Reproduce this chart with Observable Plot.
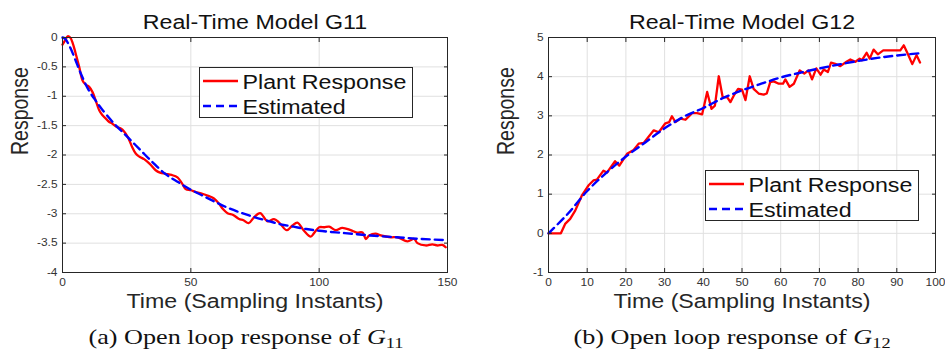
<!DOCTYPE html>
<html>
<head>
<meta charset="utf-8">
<script src="https://cdn.jsdelivr.net/npm/d3@7"></script>
<script src="https://cdn.jsdelivr.net/npm/@observablehq/plot@0.6"></script>
<style>
  html, body { margin: 0; padding: 0; background: #fff; }
  #wrap { position: relative; width: 945px; height: 353px; overflow: hidden; }
  .panel { position: absolute; top: 0; }
  .cap { position: absolute; top: 326px; font-family: "Liberation Serif", "DejaVu Serif", serif; font-size: 22px; line-height: 1; color: #111; white-space: nowrap; transform: translateX(-50%) scaleX(1.19); }
  .cap sub { font-size: 0.7em; vertical-align: -0.25em; }
  .legend { position: absolute; }
</style>
</head>
<body>
<div id="wrap">
  <div id="left" class="panel" style="left:0px"></div>
  <div id="right" class="panel" style="left:472px"></div>
  <svg id="legL" class="legend" style="left:199px;top:67px" width="215" height="52"></svg>
  <svg id="legR" class="legend" style="left:705px;top:170px" width="215" height="52"></svg>
  <div class="cap" style="left:246px">(a) Open loop response of <i>G</i><sub>11</sub></div>
  <div class="cap" style="left:732px">(b) Open loop response of <i>G</i><sub>12</sub></div>
</div>
<script>
// ---------- Data: G11 ----------
const g11Title = "Real-Time Model G11";
const g11XTicks = [0, 50, 100, 150];
const g11YTicks = [-4, -3.5, -3, -2.5, -2, -1.5, -1, -0.5, 0];
const g11PlantT = [0,1,2,3,4,5,6.5,7.8,9,10.4,11.7,13,14.3,15.5,16.9,18,19.5,21,22.7,24,25.5,27,28.6,30,31.8,34,36.3,38,40.2,42.5,44.8,46.5,48,50,51.9,54.5,57.1,59,61,62.5,64.3,66.5,68.8,70.5,72.5,74.6,77,79.9,82.4,84.4,87.4,89.6,91.5,94.1,96.7,98,100,102,103.9,106.5,109,112.3,114.7,116.9,118.2,119.5,122,124,127.9,130.5,134.4,137,138.3,141.5,144.1,146,148,149.3];
const g11PlantV = [-0.12,-0.05,0.02,0.0,-0.1,-0.25,-0.5,-0.73,-0.8,-0.84,-0.93,-1.08,-1.24,-1.32,-1.38,-1.43,-1.47,-1.52,-1.55,-1.6,-1.7,-1.85,-1.98,-2.03,-2.07,-2.15,-2.26,-2.3,-2.32,-2.34,-2.38,-2.48,-2.58,-2.6,-2.63,-2.66,-2.70,-2.74,-2.83,-2.92,-2.99,-3.02,-3.09,-3.11,-3.16,-3.06,-2.99,-3.13,-3.09,-3.15,-3.28,-3.2,-3.15,-3.29,-3.39,-3.33,-3.23,-3.23,-3.22,-3.28,-3.24,-3.28,-3.32,-3.32,-3.43,-3.37,-3.34,-3.37,-3.40,-3.40,-3.47,-3.43,-3.50,-3.54,-3.52,-3.54,-3.53,-3.57];
const g11EstT = [0,1,3,5,7,10,13,15,20,25,30,35,40,45,50,55,60,65,70,75,80,85,90,95,100,110,120,130,140,150];
const g11EstV = [0,-0.02,-0.17,-0.38,-0.6,-0.88,-1.08,-1.2,-1.46,-1.68,-1.9,-2.12,-2.32,-2.46,-2.59,-2.70,-2.81,-2.91,-2.99,-3.06,-3.12,-3.18,-3.22,-3.26,-3.29,-3.33,-3.37,-3.40,-3.43,-3.45];

// ---------- Data: G12 ----------
const g12Title = "Real-Time Model G12";
const g12XTicks = [0,10,20,30,40,50,60,70,80,90,100];
const g12YTicks = [-1,0,1,2,3,4,5];
const g12PlantT = [0,1,2,3.2,4.3,5.6,6.9,8.6,10.3,11.6,12.5,14.2,15.1,17.2,18.3,20.3,22,23.3,24.6,27.2,28.5,30.2,31.2,31.9,32.8,34.1,35.4,37.1,38.4,39.7,41,42.1,43,44,45,46.2,47,47.9,49,50,50.9,52,53,54.3,55.6,56.4,57.3,58.2,59.5,60.6,61.2,62.3,63.4,64.9,66.1,67.2,68.1,69.2,70.3,71.1,72.2,73,74.1,75.4,77,78,79.3,80.4,81,82.2,83,84,85.1,86.5,90.9,91.8,92.8,94,95.1,96];
const g12PlantV = [0,0,0,0,0.24,0.37,0.58,0.96,1.22,1.35,1.37,1.60,1.55,1.84,1.73,2.03,2.13,2.29,2.31,2.63,2.58,2.81,2.84,2.99,2.84,2.93,2.90,3.07,3.07,3.04,3.61,3.18,3.26,4.01,3.48,3.47,3.35,3.52,3.69,3.67,3.40,4.01,3.69,3.57,3.54,3.57,3.86,3.88,3.82,3.82,3.93,3.74,3.82,4.16,4.08,4.16,3.93,4.21,4.05,4.18,4.12,4.36,4.33,4.27,4.38,4.44,4.38,4.46,4.42,4.61,4.46,4.69,4.57,4.67,4.67,4.80,4.59,4.32,4.55,4.36];
const g12EstT = [0,5,10,15,20,25,30,35,40,45,50,55,60,65,70,75,80,85,90,96];
const g12EstV = [0,0.5,1.08,1.55,1.96,2.32,2.68,2.98,3.20,3.45,3.65,3.82,3.98,4.10,4.21,4.31,4.40,4.48,4.54,4.60];

const legendLabels = ["Plant Response", "Estimated"];
const xLabel = "Time (Sampling Instants)";
const yLabel = "Response";

const STRETCH = 1.19;
const FONT = "'Liberation Sans', Arial, sans-serif";
const INK = "#262626";

function zip(T, V) { return T.map((t, i) => ({t, v: V[i]})); }

function panel({title, xTicks, yTicks, plantT, plantV, estT, estV, width, ml, mr, plantCurve}) {
  const xd = [xTicks[0], xTicks[xTicks.length - 1]];
  const yd = [yTicks[0], yTicks[yTicks.length - 1]];
  const fmt = d => String(d);
  return Plot.plot({
    width, height: 353,
    marginLeft: ml, marginRight: mr, marginTop: 37, marginBottom: 81,
    style: {fontFamily: FONT, fontSize: "10px", color: "#333", background: "transparent", overflow: "visible"},
    x: {domain: xd},
    y: {domain: yd},
    marks: [
      Plot.gridX(xTicks, {stroke: "#e0e0e0", strokeOpacity: 1, strokeWidth: 1}),
      Plot.gridY(yTicks, {stroke: "#e0e0e0", strokeOpacity: 1, strokeWidth: 1}),
      Plot.line(zip(plantT, plantV), {x: "t", y: "v", stroke: "#ff0000", strokeWidth: 2.3, curve: plantCurve}),
      Plot.line(zip(estT, estV), {x: "t", y: "v", stroke: "#0000ff", strokeWidth: 2.4, strokeDasharray: "8,5", curve: "catmull-rom"}),
      Plot.frame({stroke: INK, strokeWidth: 1}),
      Plot.axisX(xTicks, {anchor: "bottom", tickSize: -4, tickPadding: 10, tickFormat: fmt, label: null, stroke: INK}),
      Plot.axisX(xTicks, {anchor: "top", tickSize: -4, tickFormat: () => "", label: null, stroke: INK}),
      Plot.axisY(yTicks, {anchor: "left", tickSize: -4, tickPadding: 9, tickFormat: fmt, label: null, stroke: INK}),
      Plot.axisY(yTicks, {anchor: "right", tickSize: -4, tickFormat: () => "", label: null, stroke: INK}),
      Plot.text([title], {frameAnchor: "top", lineAnchor: "bottom", dy: -9, fontSize: 19.5, fill: "#111"}),
      Plot.text([xLabel], {frameAnchor: "bottom", lineAnchor: "bottom", dy: 35, fontSize: 19.5, fill: INK}),
      Plot.text([yLabel], {frameAnchor: "left", lineAnchor: "bottom", rotate: -90, dx: -35, fontSize: 19.5, fill: INK})
    ]
  });
}

function stretchTexts(root, k) {
  root.querySelectorAll("text").forEach(t => {
    const tr = t.getAttribute("transform") || "";
    if (tr.includes("rotate")) {
      // rotated label: widen glyph height (screen-horizontal direction)
      t.setAttribute("transform", tr + ` scale(1,${k})`);
      return;
    }
    if (!t.textContent) return;
    const len = t.getComputedTextLength();
    if (len > 0) {
      t.setAttribute("textLength", (len * k).toFixed(2));
      t.setAttribute("lengthAdjust", "spacingAndGlyphs");
    }
  });
}

function legend(sel) {
  const svg = d3.select(sel);
  svg.append("rect").attr("x", 0.5).attr("y", 0.5).attr("width", 213).attr("height", 50)
    .attr("fill", "#fff").attr("stroke", INK).attr("stroke-width", 1);
  svg.append("line").attr("x1", 4).attr("x2", 39).attr("y1", 14).attr("y2", 14)
    .attr("stroke", "#ff0000").attr("stroke-width", 2.3);
  svg.append("line").attr("x1", 4).attr("x2", 39).attr("y1", 39).attr("y2", 39)
    .attr("stroke", "#0000ff").attr("stroke-width", 2.4).attr("stroke-dasharray", "8,5");
  svg.append("text").attr("x", 43.5).attr("y", 22).text(legendLabels[0])
    .attr("font-family", FONT).attr("font-size", 19.5).attr("fill", "#111");
  svg.append("text").attr("x", 43.5).attr("y", 46.5).text(legendLabels[1])
    .attr("font-family", FONT).attr("font-size", 19.5).attr("fill", "#111");
  stretchTexts(svg.node(), STRETCH);
}

const left = panel({title: g11Title, xTicks: g11XTicks, yTicks: g11YTicks,
  plantT: g11PlantT, plantV: g11PlantV, estT: g11EstT, estV: g11EstV,
  width: 472, ml: 62, mr: 25, plantCurve: "catmull-rom"});
const right = panel({title: g12Title, xTicks: g12XTicks, yTicks: g12YTicks,
  plantT: g12PlantT, plantV: g12PlantV, estT: g12EstT, estV: g12EstV,
  width: 473, ml: 76, mr: 10, plantCurve: "linear"});
document.getElementById("left").appendChild(left);
document.getElementById("right").appendChild(right);
stretchTexts(left, STRETCH);
stretchTexts(right, STRETCH);
legend("#legL");
legend("#legR");
</script>
</body>
</html>
